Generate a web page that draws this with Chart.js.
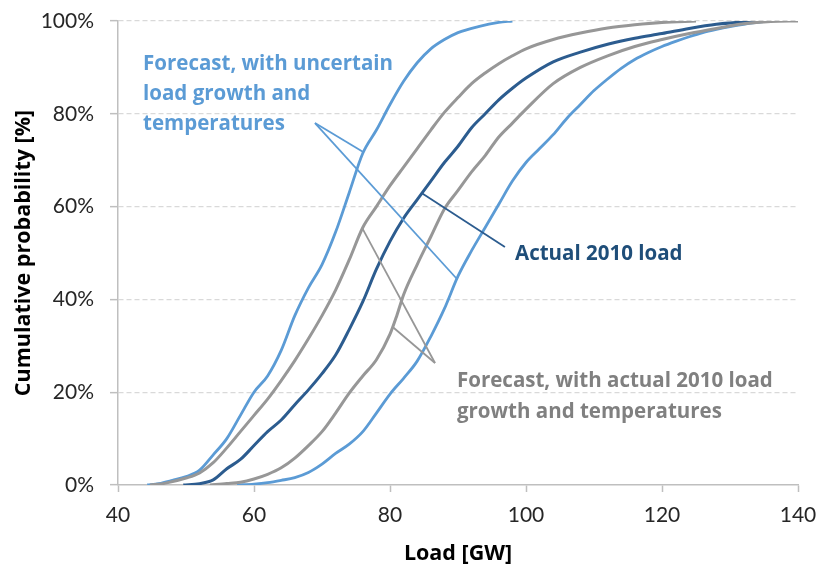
<!DOCTYPE html>
<html>
<head>
<meta charset="utf-8">
<script src="https://cdn.jsdelivr.net/npm/chart.js@4/dist/chart.umd.min.js"></script>
<style>
  html, body { margin: 0; padding: 0; background: #ffffff; }
  #wrap { width: 822px; height: 567px; position: relative; }
</style>
</head>
<body>
<div id="wrap"><canvas id="chart" width="822" height="567"></canvas></div>
<script>
// Cumulative distributions of load (GW) vs cumulative probability (%)
const loadForecastLow = [44.3,46,48,50,52,54,56,58,60,62,64,66,68,70,72,74,76,78,80,82,84,86,88,90,93,96,98];
const probForecastLow = [0,0.3,1,1.8,3.2,6.5,10,15,20,23.5,29,36.5,42.5,47.5,54.5,63,71.5,76.5,82,87,91,94,96,97.5,98.8,99.7,100];

const loadActualGrowthLow = [44.7,47,50,52,54,56,58,60,62,64,66,68,70,72,74,76,78,80,82,84,86,88,90,92,94,96,98,100,104,108,112,116,120,125];
const probActualGrowthLow = [0,0.4,1.5,2.6,4.8,8,11.5,15,18.5,22.5,26.8,31.5,36.5,42,48.5,55.5,60,64.5,68.5,72.5,76.5,80.3,83.5,86.5,88.8,90.8,92.5,94,96,97.4,98.5,99.2,99.7,100];

const loadActual2010 = [49.6,52,54,56,58,60,62,64,66,68,70,72,74,76,78,80,82,84,86,88,90,92,94,96,98,100,104,108,112,116,120,124,128,132,135];
const probActual2010 = [0,0.3,1.1,3.5,5.5,8.5,11.5,14,17.3,20.5,24,28,33.5,39.5,46.5,52.5,57.5,61.5,65.5,69.5,73,77,80,83,85.5,87.7,91.2,93.3,95,96.3,97.3,98.4,99.3,99.8,100];

const loadActualGrowthHigh = [53.5,56,58,60,62,64,66,68,70,72,74,76,78,80,81,82,84,86,88,90,92,94,96,98,100,104,108,112,116,120,124,128,132,136,140];
const probActualGrowthHigh = [0,0.3,0.6,1.3,2.3,3.7,5.8,8.5,11.5,15.5,19.8,23.5,27,32.5,36.5,41,47.5,53.5,59.5,63.5,67.5,71,75,78,81,86.5,90,92.5,94.5,96,97.3,98.4,99.4,99.9,100];

const loadForecastHigh = [57.5,60,62,64,66,68,70,72,74,76,78,80,82,84,86,88,90,92,94,96,98,100,102,104,106,108,110,112,114,116,118,120,122,124,126,128,130,132,134,136];
const probForecastHigh = [0,0.2,0.5,1,1.6,2.7,4.5,6.8,8.8,11.5,15.5,19.6,23,26.7,32,38,45,50.5,55.5,60.5,65.5,69.5,72.5,75.5,79,82,85,87.5,89.8,91.7,93.2,94.5,95.6,96.6,97.5,98.2,98.8,99.3,99.7,100];

const xTicks = [40, 60, 80, 100, 120, 140];
const yTicks = [0, 20, 40, 60, 80, 100];

const LIGHT_BLUE = '#5B9BD5';
const DARK_BLUE = '#2C5C8F';
const DARK_BLUE_TEXT = '#1F4E79';
const GREY = '#979797';
const GREY_TEXT = '#808080';
const AXIS_GREY = '#bfbfbf';
const TICK_FONT = 'Lato, "Open Sans", "DejaVu Sans", sans-serif';
const LABEL_FONT = '"Open Sans", Lato, "DejaVu Sans", sans-serif';

function points(xs, ys) {
  return xs.map((x, i) => ({ x: x, y: ys[i] }));
}

function series(xs, ys, color, width) {
  return {
    data: points(xs, ys),
    borderColor: color,
    backgroundColor: color,
    borderWidth: width,
    pointRadius: 0,
    fill: false,
    cubicInterpolationMode: 'monotone',
    tension: 0.4
  };
}

// Callouts: labels and leader lines, anchored in data units
const callouts = [
  {
    color: LIGHT_BLUE, textColor: LIGHT_BLUE,
    lines: [[[68.97, 78.0], [76.0, 71.8]], [[68.97, 78.0], [89.85, 44.4]]],
    text: ['Forecast, with uncertain', 'load growth and', 'temperatures'],
    at: [43.68, 89.4], lineGap: 30
  },
  {
    color: DARK_BLUE, textColor: DARK_BLUE_TEXT,
    lines: [[[84.7, 62.9], [96.9, 51.3]]],
    text: ['Actual 2010 load'],
    at: [98.38, 48.5], lineGap: 30
  },
  {
    color: GREY, textColor: GREY_TEXT,
    lines: [[[75.9, 55.4], [86.62, 26.3]], [[80.4, 34.05], [86.62, 26.3]]],
    text: ['Forecast, with actual 2010 load', 'growth and temperatures'],
    at: [89.85, 21.1], lineGap: 31
  }
];

const calloutPlugin = {
  id: 'callouts',
  afterDatasetsDraw(chart) {
    const { ctx, scales: { x, y } } = chart;
    ctx.save();
    callouts.forEach(c => {
      ctx.strokeStyle = c.color;
      ctx.lineWidth = 1.8;
      c.lines.forEach(seg => {
        ctx.beginPath();
        ctx.moveTo(x.getPixelForValue(seg[0][0]), y.getPixelForValue(seg[0][1]));
        ctx.lineTo(x.getPixelForValue(seg[1][0]), y.getPixelForValue(seg[1][1]));
        ctx.stroke();
      });
      ctx.fillStyle = c.textColor;
      ctx.font = 'bold 20.5px ' + LABEL_FONT;
      ctx.textAlign = 'left';
      ctx.textBaseline = 'alphabetic';
      const px = x.getPixelForValue(c.at[0]);
      const py = y.getPixelForValue(c.at[1]);
      c.text.forEach((t, i) => ctx.fillText(t, px, py + i * c.lineGap));
    });
    ctx.restore();
  }
};

new Chart(document.getElementById('chart'), {
  type: 'line',
  data: {
    datasets: [
      series(loadActualGrowthLow, probActualGrowthLow, GREY, 3),
      series(loadActualGrowthHigh, probActualGrowthHigh, GREY, 3),
      series(loadForecastLow, probForecastLow, LIGHT_BLUE, 2.8),
      series(loadForecastHigh, probForecastHigh, LIGHT_BLUE, 2.8),
      series(loadActual2010, probActual2010, DARK_BLUE, 3)
    ]
  },
  options: {
    responsive: false,
    animation: false,
    events: [],
    layout: { padding: { left: 0, right: 24, top: 21, bottom: 0 } },
    plugins: { legend: { display: false }, tooltip: { enabled: false } },
    scales: {
      x: {
        type: 'linear',
        min: 40, max: 140,
        afterBuildTicks: s => { s.ticks = xTicks.map(v => ({ value: v })); },
        afterFit: s => { s.height = 82; s.paddingLeft = 0; s.paddingRight = 0; },
        grid: { drawOnChartArea: false, drawTicks: true, tickLength: 7, tickColor: AXIS_GREY, tickWidth: 1.5, tickBorderDash: [] },
        border: { color: AXIS_GREY, width: 1.5 },
        ticks: { color: '#262626', padding: 11, font: { family: TICK_FONT, size: 21 } },
        title: { display: true, text: 'Load [GW]', color: '#000', font: { family: LABEL_FONT, size: 21.5, weight: 'bold' }, padding: { top: 0, bottom: 0 } }
      },
      y: {
        min: 0, max: 100,
        afterBuildTicks: s => { s.ticks = yTicks.map(v => ({ value: v })); },
        afterFit: s => { s.width = 118; s.paddingTop = 0; s.paddingBottom = 0; },
        grid: {
          color: c => (c.tick && c.tick.value === 0) ? 'rgba(0,0,0,0)' : '#d9d9d9',
          lineWidth: 1.3,
          drawTicks: true, tickLength: 8, tickColor: AXIS_GREY, tickWidth: 1.5, tickBorderDash: []
        },
        border: { color: AXIS_GREY, width: 1.5, dash: [5, 3] },
        ticks: { color: '#262626', padding: 16, font: { family: TICK_FONT, size: 21 }, callback: v => v + '%' },
        title: { display: true, text: 'Cumulative probability [%]', color: '#000', font: { family: LABEL_FONT, size: 21.5, weight: 'bold' }, padding: { top: 11, bottom: 0 } }
      }
    }
  },
  plugins: [calloutPlugin]
});
</script>
</body>
</html>
